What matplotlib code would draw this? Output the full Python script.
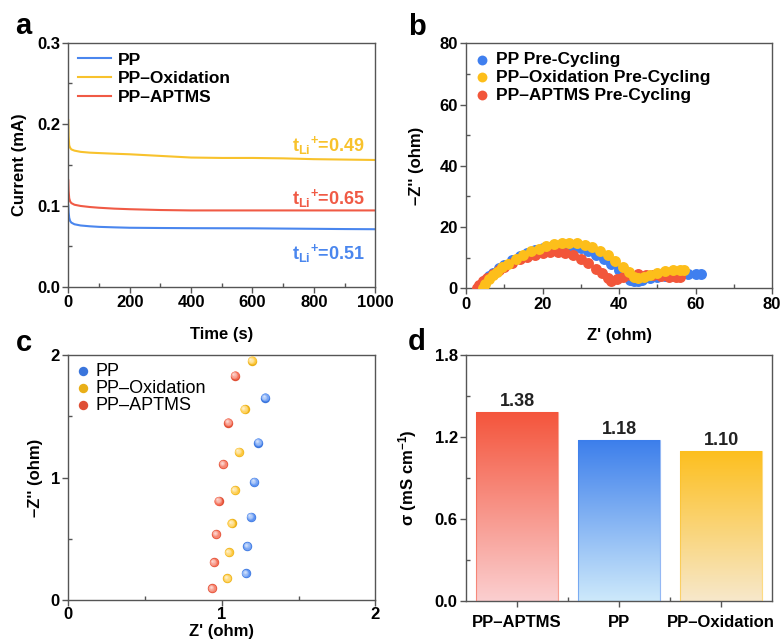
import numpy as np
import matplotlib
matplotlib.use("Agg")
import matplotlib.pyplot as plt
import matplotlib.transforms as mtransforms
from matplotlib.colors import to_rgb, LinearSegmentedColormap
from matplotlib.ticker import MultipleLocator, FixedLocator

plt.rcParams["font.family"] = ["Liberation Sans", "DejaVu Sans"]
plt.rcParams["font.weight"] = "bold"
plt.rcParams["axes.labelweight"] = "bold"
plt.rcParams["mathtext.fontset"] = "custom"
plt.rcParams["mathtext.rm"] = "Liberation Sans:bold"
plt.rcParams["mathtext.bf"] = "Liberation Sans:bold"
plt.rcParams["mathtext.it"] = "Liberation Sans:bold"

BLUE = "#4A86EE"
YELLOW = "#F8C22C"
RED = "#F05A45"
SPINE = "#555555"

# ---- panel a: chronoamperometry
time_s = [0, 1, 3, 6, 10, 20, 40, 70, 100, 150, 200, 300, 400, 500, 600, 700, 800, 900, 1000]
cur_pp = [0.100, 0.092, 0.085, 0.081, 0.079, 0.077, 0.0755, 0.0745, 0.0738, 0.0732, 0.0727,
          0.0724, 0.0722, 0.0721, 0.0720, 0.0717, 0.0714, 0.0711, 0.0709]
cur_ox = [0.205, 0.185, 0.174, 0.171, 0.169, 0.1675, 0.166, 0.165, 0.1645, 0.1637, 0.163,
          0.161, 0.159, 0.1585, 0.1585, 0.158, 0.157, 0.1565, 0.156]
cur_ap = [0.131, 0.118, 0.109, 0.105, 0.103, 0.101, 0.0995, 0.0982, 0.0973, 0.0962, 0.0955,
          0.0945, 0.0940, 0.0940, 0.0940, 0.0940, 0.0940, 0.0940, 0.0940]
t_li = {"PP": "0.51", "PP–Oxidation": "0.49", "PP–APTMS": "0.65"}

# ---- panel b: Nyquist pre-cycling
zr_pp = [3.5, 4, 5, 6, 7, 8.5, 10, 12, 14, 16, 18, 20, 22, 24, 26, 28, 30, 32, 34, 36, 38, 40,
         41.5, 43, 44, 45, 46, 48, 50, 52, 54, 56, 58, 60, 61.5]
zi_pp = [0, 1.2, 2.8, 4.0, 5.1, 6.5, 7.7, 9.1, 10.4, 11.5, 12.4, 13.1, 13.6, 13.9, 13.9, 13.6,
         13.0, 12.2, 11.0, 9.6, 7.9, 5.8, 4.2, 2.8, 2.2, 2.4, 2.8, 3.2, 3.6, 3.9, 4.1, 4.3, 4.5,
         4.6, 4.6]
zr_ox = [4.5, 5, 6, 7, 8, 9.5, 11, 13, 15, 17, 19, 21, 23, 25, 27, 29, 31, 33, 35, 37, 39, 41,
         42.5, 44, 45, 46.5, 48, 50, 52, 54, 56, 57]
zi_ox = [0, 1.5, 3.0, 4.3, 5.4, 6.8, 8.0, 9.6, 10.9, 12.0, 12.9, 13.7, 14.3, 14.7, 14.9, 14.7,
         14.2, 13.4, 12.3, 10.8, 9.0, 6.9, 5.2, 3.6, 3.3, 3.8, 4.4, 5.0, 5.5, 5.8, 6.0, 6.1]
zr_ap = [3, 3.5, 4.5, 5.5, 7, 8.5, 10, 12, 14, 16, 18, 20, 22, 24, 26, 28, 30, 32, 34, 35.5, 37,
         38, 39.5, 41, 43, 45, 47, 49, 51, 53, 55, 56]
zi_ap = [0, 1.0, 2.3, 3.4, 4.7, 5.9, 7.0, 8.3, 9.4, 10.3, 11.0, 11.5, 11.8, 11.8, 11.5, 10.8,
         9.7, 8.2, 6.4, 5.0, 3.3, 2.5, 3.0, 3.6, 4.2, 4.5, 4.4, 4.2, 4.0, 3.8, 3.6, 3.5]

# ---- panel c: high-frequency zoom
c_pp_x = [1.157, 1.167, 1.189, 1.211, 1.239, 1.283]
c_pp_y = [0.218, 0.441, 0.680, 0.966, 1.287, 1.654]
c_ox_x = [1.037, 1.046, 1.065, 1.085, 1.111, 1.148, 1.196]
c_ox_y = [0.177, 0.389, 0.626, 0.898, 1.211, 1.559, 1.956]
c_ap_x = [0.937, 0.948, 0.963, 0.980, 1.009, 1.043, 1.085]
c_ap_y = [0.095, 0.307, 0.539, 0.811, 1.110, 1.450, 1.834]

# ---- panel d: ionic conductivity
bar_names = ["PP–APTMS", "PP", "PP–Oxidation"]
sigma = [1.38, 1.18, 1.10]
bar_top = ["#F4553C", "#3C7EEB", "#FDBF1E"]
bar_bot = ["#FBCFD0", "#CDE9FB", "#F7E8CB"]


def style(ax):
    for sp in ax.spines.values():
        sp.set_color(SPINE)
        sp.set_linewidth(1.0)
    ax.tick_params(which="major", direction="out", length=4, width=1, color=SPINE,
                   labelsize=12, pad=2)
    ax.tick_params(which="minor", direction="in", length=3, width=1, color=SPINE)
    for lab in ax.get_xticklabels() + ax.get_yticklabels():
        lab.set_fontweight("bold")


fig = plt.figure(figsize=(7.84, 6.39), dpi=100)
ax_a = fig.add_axes([0.0871, 0.551, 0.3916, 0.382])
ax_b = fig.add_axes([0.5944, 0.549, 0.3903, 0.383])
ax_c = fig.add_axes([0.0871, 0.061, 0.3916, 0.383])
ax_d = fig.add_axes([0.5944, 0.0595, 0.3903, 0.385])

# a
ax_a.plot(time_s, cur_pp, color=BLUE, lw=1.5, label="PP")
ax_a.plot(time_s, cur_ox, color=YELLOW, lw=1.5, label="PP–Oxidation")
ax_a.plot(time_s, cur_ap, color=RED, lw=1.5, label="PP–APTMS")
ax_a.set_xlim(0, 1000)
ax_a.set_ylim(0, 0.3)
ax_a.xaxis.set_major_locator(MultipleLocator(200))
ax_a.xaxis.set_minor_locator(MultipleLocator(100))
ax_a.yaxis.set_major_locator(MultipleLocator(0.1))
ax_a.yaxis.set_minor_locator(MultipleLocator(0.05))
ax_a.set_xlabel("Time (s)", fontsize=12)
ax_a.set_ylabel("Current (mA)", fontsize=12)
ax_a.xaxis.set_label_coords(0.5, -0.165)
ax_a.yaxis.set_label_coords(-0.135, 0.5)
ax_a.legend(loc="upper left", frameon=False, prop={"size": 12.5, "weight": "bold"},
            handlelength=1.9, labelspacing=0.2, borderaxespad=0.15, handletextpad=0.4)
for name, col, yv in [("PP–Oxidation", YELLOW, 0.174), ("PP–APTMS", RED, 0.109),
                      ("PP", BLUE, 0.041)]:
    ax_a.text(965, yv, r"$\mathregular{t_{Li}}^{\mathregular{+}}$=" + t_li[name], color=col,
              fontsize=13, fontweight="bold", ha="right", va="center")
style(ax_a)

# b
ax_b.scatter(zr_pp, zi_pp, s=62, color="#3F7FEF", lw=0, label="PP Pre-Cycling", zorder=3)
ax_b.scatter(zr_ap, zi_ap, s=62, color="#F2563A", lw=0, label="PP–APTMS Pre-Cycling", zorder=4)
ax_b.scatter(zr_ox, zi_ox, s=62, color="#FDBE1A", lw=0, label="PP–Oxidation Pre-Cycling", zorder=5)
ax_b.set_xlim(0, 80)
ax_b.set_ylim(0, 80)
ax_b.xaxis.set_major_locator(MultipleLocator(20))
ax_b.xaxis.set_minor_locator(MultipleLocator(10))
ax_b.yaxis.set_major_locator(MultipleLocator(20))
ax_b.yaxis.set_minor_locator(MultipleLocator(10))
ax_b.set_xlabel("Z' (ohm)", fontsize=12)
ax_b.set_ylabel("–Z'' (ohm)", fontsize=12)
ax_b.xaxis.set_label_coords(0.5, -0.162)
ax_b.yaxis.set_label_coords(-0.137, 0.5)
h, l = ax_b.get_legend_handles_labels()
ax_b.legend([h[0], h[2], h[1]], [l[0], l[2], l[1]], loc="upper left", frameon=False,
            prop={"size": 12.5, "weight": "bold"}, handlelength=0.8, handletextpad=0.4,
            labelspacing=0.15, borderaxespad=0.1, markerscale=0.9)
style(ax_b)


# c
def sphere(ax, xs, ys, color, label, s=46):
    base = np.array(to_rgb(color))
    h = ax.scatter(xs, ys, s=s, color=base * 0.92, lw=0, zorder=3, label=label)
    n = 6
    for i in range(1, n):
        f = i / (n - 1)
        c = base * (1 - 0.75 * f) + 0.75 * f
        off = mtransforms.offset_copy(ax.transData, fig=fig, x=-1.0 * f, y=1.0 * f,
                                      units="points")
        ax.scatter(xs, ys, s=s * (1 - 0.9 * f) ** 1.3, color=c, lw=0, transform=off,
                   zorder=3 + i)
    return h


sphere(ax_c, c_pp_x, c_pp_y, "#3F7FEF", "PP")
sphere(ax_c, c_ox_x, c_ox_y, "#FDBE1A", "PP–Oxidation")
sphere(ax_c, c_ap_x, c_ap_y, "#F2563A", "PP–APTMS")
ax_c.set_xlim(0, 2)
ax_c.set_ylim(0, 2)
ax_c.xaxis.set_major_locator(MultipleLocator(1))
ax_c.xaxis.set_minor_locator(MultipleLocator(0.5))
ax_c.yaxis.set_major_locator(MultipleLocator(1))
ax_c.yaxis.set_minor_locator(MultipleLocator(0.5))
ax_c.set_xlabel("Z' (ohm)", fontsize=12)
ax_c.set_ylabel("–Z'' (ohm)", fontsize=12)
ax_c.xaxis.set_label_coords(0.5, -0.1)
ax_c.yaxis.set_label_coords(-0.082, 0.5)
ax_c.legend(loc="upper left", frameon=False, prop={"size": 13, "weight": "normal"},
            handlelength=0.8, handletextpad=0.3, labelspacing=0.0, borderaxespad=0.1,
            borderpad=0.3)
style(ax_c)
ax_c.tick_params(axis="x", which="major", pad=1)

# d
grad = np.linspace(0, 1, 256)[:, None]
for i, v in enumerate(sigma):
    bar = ax_d.bar(i, v, width=0.8, color="none", edgecolor=bar_top[i], lw=0.8, zorder=3,
                   alpha=0.55)
    cmap = LinearSegmentedColormap.from_list("g%d" % i, [bar_bot[i], bar_top[i]])
    im = ax_d.imshow(grad, extent=[i - 0.4, i + 0.4, 0, v], origin="lower", cmap=cmap,
                     aspect="auto", zorder=2)
    im.set_clip_path(bar[0])
    ax_d.text(i, v + 0.015, "%.2f" % v, ha="center", va="bottom", fontsize=13,
              fontweight="bold", color="#222222")
ax_d.set_xlim(-0.5, 2.5)
ax_d.set_ylim(0, 1.8)
ax_d.set_xticks(range(len(bar_names)))
ax_d.set_xticklabels(bar_names)
ax_d.xaxis.set_minor_locator(FixedLocator([0.5, 1.5]))
ax_d.yaxis.set_major_locator(MultipleLocator(0.6))
ax_d.yaxis.set_minor_locator(MultipleLocator(0.3))
ax_d.yaxis.set_major_formatter(matplotlib.ticker.FormatStrFormatter("%.1f"))
ax_d.set_ylabel(r"σ (mS cm$^{\mathregular{-1}}$)", fontsize=12)
ax_d.yaxis.set_label_coords(-0.153, 0.5)
style(ax_d)
ax_d.tick_params(axis="x", which="major", pad=6)

for letter, x, y in [("a", 23, 26), ("b", 417, 27), ("c", 24, 343), ("d", 417, 342)]:
    fig.text(x / 784, 1 - y / 639, letter, fontsize=21, fontweight="bold", ha="center",
             va="center")

fig.savefig("out.png", dpi=100)
